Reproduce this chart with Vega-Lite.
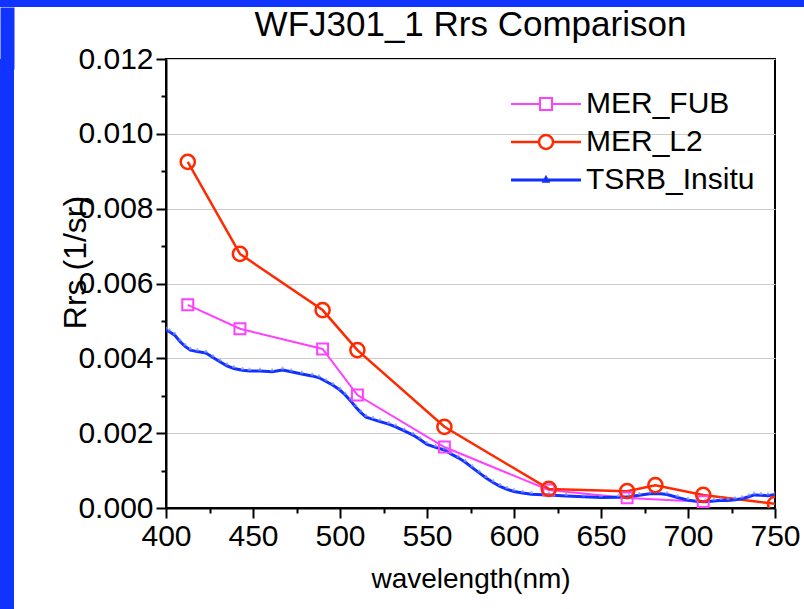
{
  "$schema": "https://vega.github.io/schema/vega-lite/v6.json",
  "padding": 0,
  "background": "white",
  "spacing": -7,
  "config": {"view": {"stroke": null}, "font": "Liberation Sans"},
  "datasets": {
    "empty": [],
    "rrs": [
      {"series": "MER_FUB", "wl": 412.5, "v": 0.00543},
      {"series": "MER_FUB", "wl": 442.5, "v": 0.00479},
      {"series": "MER_FUB", "wl": 490, "v": 0.00425},
      {"series": "MER_FUB", "wl": 510, "v": 0.00302},
      {"series": "MER_FUB", "wl": 560, "v": 0.00163},
      {"series": "MER_FUB", "wl": 620, "v": 0.00048},
      {"series": "MER_FUB", "wl": 665, "v": 0.00027},
      {"series": "MER_FUB", "wl": 708.75, "v": 0.00017},
      {"series": "MER_L2", "wl": 412.5, "v": 0.00925},
      {"series": "MER_L2", "wl": 442.5, "v": 0.00679},
      {"series": "MER_L2", "wl": 490, "v": 0.00529},
      {"series": "MER_L2", "wl": 510, "v": 0.00422},
      {"series": "MER_L2", "wl": 560, "v": 0.00217},
      {"series": "MER_L2", "wl": 620, "v": 0.00051},
      {"series": "MER_L2", "wl": 665, "v": 0.00045},
      {"series": "MER_L2", "wl": 681.25, "v": 0.00061},
      {"series": "MER_L2", "wl": 708.75, "v": 0.00035},
      {"series": "MER_L2", "wl": 750, "v": 0.00011},
      {"series": "TSRB_Insitu", "wl": 400, "v": 0.00476},
      {"series": "TSRB_Insitu", "wl": 402, "v": 0.00471},
      {"series": "TSRB_Insitu", "wl": 405, "v": 0.00462},
      {"series": "TSRB_Insitu", "wl": 408, "v": 0.00445},
      {"series": "TSRB_Insitu", "wl": 411, "v": 0.00432},
      {"series": "TSRB_Insitu", "wl": 414, "v": 0.00422},
      {"series": "TSRB_Insitu", "wl": 418, "v": 0.00418},
      {"series": "TSRB_Insitu", "wl": 423, "v": 0.00414},
      {"series": "TSRB_Insitu", "wl": 427, "v": 0.00402},
      {"series": "TSRB_Insitu", "wl": 431, "v": 0.00391},
      {"series": "TSRB_Insitu", "wl": 435, "v": 0.0038},
      {"series": "TSRB_Insitu", "wl": 439, "v": 0.00373},
      {"series": "TSRB_Insitu", "wl": 444, "v": 0.00368},
      {"series": "TSRB_Insitu", "wl": 448, "v": 0.00366},
      {"series": "TSRB_Insitu", "wl": 454, "v": 0.00366},
      {"series": "TSRB_Insitu", "wl": 461, "v": 0.00364},
      {"series": "TSRB_Insitu", "wl": 467, "v": 0.00369},
      {"series": "TSRB_Insitu", "wl": 472, "v": 0.00364},
      {"series": "TSRB_Insitu", "wl": 478, "v": 0.00358},
      {"series": "TSRB_Insitu", "wl": 484, "v": 0.00353},
      {"series": "TSRB_Insitu", "wl": 488, "v": 0.00348},
      {"series": "TSRB_Insitu", "wl": 492, "v": 0.00338},
      {"series": "TSRB_Insitu", "wl": 496, "v": 0.00328},
      {"series": "TSRB_Insitu", "wl": 500, "v": 0.00315},
      {"series": "TSRB_Insitu", "wl": 503, "v": 0.00302},
      {"series": "TSRB_Insitu", "wl": 506, "v": 0.00287},
      {"series": "TSRB_Insitu", "wl": 509, "v": 0.0027},
      {"series": "TSRB_Insitu", "wl": 512, "v": 0.00255},
      {"series": "TSRB_Insitu", "wl": 515, "v": 0.00243},
      {"series": "TSRB_Insitu", "wl": 519, "v": 0.00237},
      {"series": "TSRB_Insitu", "wl": 523, "v": 0.00231},
      {"series": "TSRB_Insitu", "wl": 528, "v": 0.00224},
      {"series": "TSRB_Insitu", "wl": 532, "v": 0.00217},
      {"series": "TSRB_Insitu", "wl": 537, "v": 0.00206},
      {"series": "TSRB_Insitu", "wl": 542, "v": 0.00195},
      {"series": "TSRB_Insitu", "wl": 546, "v": 0.00183},
      {"series": "TSRB_Insitu", "wl": 550, "v": 0.0017},
      {"series": "TSRB_Insitu", "wl": 555, "v": 0.00162},
      {"series": "TSRB_Insitu", "wl": 560, "v": 0.00155},
      {"series": "TSRB_Insitu", "wl": 564, "v": 0.00144},
      {"series": "TSRB_Insitu", "wl": 568, "v": 0.00134},
      {"series": "TSRB_Insitu", "wl": 572, "v": 0.00122},
      {"series": "TSRB_Insitu", "wl": 576, "v": 0.00108},
      {"series": "TSRB_Insitu", "wl": 580, "v": 0.00094},
      {"series": "TSRB_Insitu", "wl": 584, "v": 0.0008},
      {"series": "TSRB_Insitu", "wl": 588, "v": 0.00068},
      {"series": "TSRB_Insitu", "wl": 592, "v": 0.00058},
      {"series": "TSRB_Insitu", "wl": 596, "v": 0.0005},
      {"series": "TSRB_Insitu", "wl": 600, "v": 0.00044},
      {"series": "TSRB_Insitu", "wl": 605, "v": 0.0004},
      {"series": "TSRB_Insitu", "wl": 610, "v": 0.00037},
      {"series": "TSRB_Insitu", "wl": 620, "v": 0.00035},
      {"series": "TSRB_Insitu", "wl": 630, "v": 0.00032},
      {"series": "TSRB_Insitu", "wl": 640, "v": 0.0003},
      {"series": "TSRB_Insitu", "wl": 650, "v": 0.00028},
      {"series": "TSRB_Insitu", "wl": 660, "v": 0.00029},
      {"series": "TSRB_Insitu", "wl": 666, "v": 0.0003},
      {"series": "TSRB_Insitu", "wl": 672, "v": 0.00034},
      {"series": "TSRB_Insitu", "wl": 678, "v": 0.00038},
      {"series": "TSRB_Insitu", "wl": 683, "v": 0.00039},
      {"series": "TSRB_Insitu", "wl": 688, "v": 0.00036},
      {"series": "TSRB_Insitu", "wl": 694, "v": 0.00028},
      {"series": "TSRB_Insitu", "wl": 700, "v": 0.00021},
      {"series": "TSRB_Insitu", "wl": 705, "v": 0.00018},
      {"series": "TSRB_Insitu", "wl": 710, "v": 0.00017},
      {"series": "TSRB_Insitu", "wl": 715, "v": 0.00019},
      {"series": "TSRB_Insitu", "wl": 719, "v": 0.00021},
      {"series": "TSRB_Insitu", "wl": 723, "v": 0.0002},
      {"series": "TSRB_Insitu", "wl": 727, "v": 0.00022},
      {"series": "TSRB_Insitu", "wl": 731, "v": 0.00025},
      {"series": "TSRB_Insitu", "wl": 735, "v": 0.0003},
      {"series": "TSRB_Insitu", "wl": 738, "v": 0.00035},
      {"series": "TSRB_Insitu", "wl": 742, "v": 0.00034},
      {"series": "TSRB_Insitu", "wl": 746, "v": 0.00033},
      {"series": "TSRB_Insitu", "wl": 750, "v": 0.00036}
    ]
  },
  "vconcat": [
    {
      "data": {"name": "empty"},
      "mark": "rect",
      "width": 804,
      "height": 7,
      "view": {"fill": "#1133FF", "stroke": null}
    },
    {
      "columns": 2,
      "align": "none",
      "bounds": "full",
      "spacing": 44,
      "concat": [
        {
          "data": {"name": "empty"},
          "mark": "rect",
          "width": 14,
          "height": 610,
          "view": {"fill": "#1133FF", "stroke": null},
          "encoding": {
            "x": {
              "field": "a", "type": "quantitative",
              "scale": {"domain": [0, 14], "nice": false, "zero": false},
              "axis": {"orient": "top", "values": [7], "offset": -10, "domain": false, "labels": false, "title": null, "grid": false, "ticks": true, "tickSize": 62, "tickWidth": 14, "tickColor": "#1133FF", "tickCap": "butt"}
            }
          }
        },
        {
          "width": 609,
          "height": 449,
          "view": {"stroke": "black", "strokeWidth": 2},
          "title": {"text": "WFJ301_1 Rrs Comparison", "fontSize": 35, "fontWeight": "normal", "font": "Liberation Sans", "color": "black", "offset": 1},
          "data": {"name": "rrs"},
          "encoding": {
            "x": {
              "field": "wl", "type": "quantitative", "title": "wavelength(nm)",
              "scale": {"domain": [400, 750], "nice": false, "zero": false},
              "axis": {
                "values": [400, 425, 450, 475, 500, 525, 550, 575, 600, 625, 650, 675, 700, 725, 750],
                "format": "d",
                "labelExpr": "datum.value % 50 == 0 ? datum.label : ''",
                "labelFontSize": 30, "labelColor": "black", "labelFlush": false, "labelOverlap": false, "labelPadding": 3,
                "tickColor": "black", "tickWidth": 2,
                "tickSize": {"condition": {"test": "datum.value % 50 != 0", "value": 5}, "value": 10},
                "domainColor": "black", "domainWidth": 2, "grid": false,
                "titleFontSize": 28, "titleFontWeight": "normal", "titleColor": "black", "titlePadding": 14
              }
            },
            "y": {
              "field": "v", "type": "quantitative", "title": "Rrs (1/sr)",
              "scale": {"domain": [0, 0.012], "nice": false},
              "axis": {
                "values": [0, 0.001, 0.002, 0.003, 0.004, 0.005, 0.006, 0.007, 0.008, 0.009, 0.01, 0.011, 0.012],
                "labelExpr": "round(datum.value * 1000) % 2 == 0 ? format(datum.value, '.3f') : ''",
                "labelFontSize": 30, "labelColor": "black", "labelOverlap": false, "labelPadding": 3,
                "tickColor": "black", "tickWidth": 2,
                "tickSize": {"condition": {"test": "round(datum.value * 1000) % 2 == 1", "value": 5}, "value": 10},
                "domainColor": "black", "domainWidth": 2,
                "grid": true, "gridColor": "#cccccc", "gridWidth": 1,
                "gridOpacity": {"condition": {"test": "round(datum.value * 1000) % 2 == 1", "value": 0}, "value": 1},
                "titleFontSize": 32, "titleFontWeight": "normal", "titleColor": "black",
                "titleX": -81, "titleY": 203, "titleAlign": "center", "titleBaseline": "alphabetic", "titleAngle": -90
              }
            },
            "color": {
              "field": "series", "type": "nominal",
              "scale": {"domain": ["MER_FUB", "MER_L2", "TSRB_Insitu"], "range": ["#FF40FF", "#FF2A00", "#1030FF"]},
              "legend": {
                "orient": "none", "legendX": 531, "legendY": 89, "title": null,
                "labelFontSize": 30, "labelFont": "Liberation Sans", "labelColor": "black", "labelLimit": 400,
                "symbolSize": 100, "labelOffset": 25, "rowPadding": 8, "padding": 0,
                "encode": {
                  "symbols": {
                    "update": {
                      "shape": {"signal": "datum.value === 'MER_FUB' ? 'M-7,0H-1.2M1.2,0H7M-1.2,-1.2H1.2V1.2H-1.2Z' : datum.value === 'MER_L2' ? 'M-7,0H-1.4M1.4,0H7M1.4,0A1.4,1.4,0,1,1,-1.4,0A1.4,1.4,0,1,1,1.4,0Z' : 'M-7,0H7M0,-0.4L0.35,0.25H-0.35Z'"},
                      "fill": {"value": "transparent"},
                      "stroke": {"signal": "datum.value === 'MER_FUB' ? '#FF40FF' : datum.value === 'MER_L2' ? '#FF2A00' : '#1030FF'"},
                      "strokeWidth": {"signal": "datum.value === 'MER_FUB' ? 2 : 3"},
                      "opacity": {"value": 1}
                    }
                  }
                }
              }
            },
            "strokeWidth": {
              "field": "series", "type": "nominal",
              "scale": {"domain": ["MER_FUB", "MER_L2", "TSRB_Insitu"], "range": [2, 3, 3]},
              "legend": null
            }
          },
          "layer": [
            {"mark": {"type": "line", "clip": true}},
            {
              "transform": [{"filter": "datum.series == 'TSRB_Insitu'"}],
              "mark": {"type": "point", "shape": "triangle-up", "filled": false, "clip": true, "size": 8, "yOffset": -2, "opacity": 0.8},
              "encoding": {
                "color": {"value": "#7f90ff"},
                "strokeWidth": {"value": 1}
              }
            },
            {
              "transform": [{"filter": "datum.series != 'TSRB_Insitu'"}],
              "mark": {"type": "point", "filled": false, "clip": true, "opacity": 1},
              "encoding": {
                "shape": {"field": "series", "type": "nominal", "scale": {"domain": ["MER_FUB", "MER_L2"], "range": ["square", "circle"]}, "legend": null},
                "size": {"field": "series", "type": "nominal", "scale": {"domain": ["MER_FUB", "MER_L2"], "range": [120, 200]}, "legend": null}
              }
            }
          ]
        }
      ]
    }
  ]
}
